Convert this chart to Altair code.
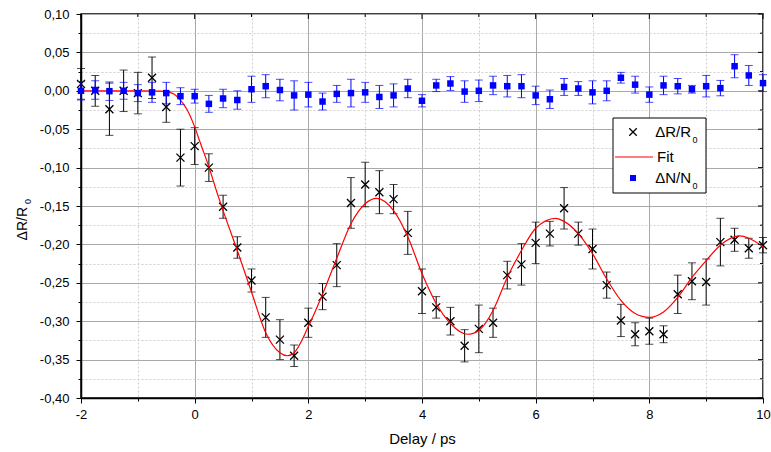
import altair as alt
import pandas as pd

# ---------------- data ----------------
delay = [-2.0, -1.75, -1.5, -1.25, -1.0, -0.75, -0.5, -0.25, 0.0, 0.25, 0.5, 0.75,
         1.0, 1.25, 1.5, 1.75, 2.0, 2.25, 2.5, 2.75, 3.0, 3.25, 3.5, 3.75,
         4.0, 4.25, 4.5, 4.75, 5.0, 5.25, 5.5, 5.75, 6.0, 6.25, 6.5, 6.75,
         7.0, 7.25, 7.5, 7.75, 8.0, 8.25, 8.5, 8.75, 9.0, 9.25, 9.5, 9.75, 10.0]

dr_val = [0.009, 0.000, -0.024, 0.000, -0.003, 0.017, -0.021, -0.087, -0.072, -0.100, -0.151, -0.204,
          -0.247, -0.295, -0.324, -0.345, -0.302, -0.268, -0.227, -0.146, -0.122, -0.132, -0.141, -0.185,
          -0.261, -0.282, -0.300, -0.332, -0.310, -0.302, -0.240, -0.226, -0.198, -0.186, -0.153, -0.186,
          -0.206, -0.253, -0.299, -0.317, -0.313, -0.317, -0.265, -0.248, -0.249, -0.197, -0.194, -0.205, -0.201]
dr_err = [0.020, 0.020, 0.034, 0.027, 0.027, 0.027, 0.020, 0.037, 0.024, 0.018, 0.015, 0.014,
          0.015, 0.026, 0.026, 0.014, 0.019, 0.017, 0.028, 0.033, 0.029, 0.028, 0.019, 0.028,
          0.029, 0.014, 0.018, 0.021, 0.031, 0.019, 0.018, 0.027, 0.027, 0.016, 0.027, 0.015,
          0.026, 0.017, 0.021, 0.015, 0.017, 0.011, 0.025, 0.024, 0.030, 0.031, 0.015, 0.013, 0.010]

dn_val = [0.000, 0.001, -0.0005, 0.000, -0.003, -0.002, -0.003, -0.007, -0.007, -0.017, -0.010, -0.012,
          0.002, 0.006, 0.001, -0.006, -0.005, -0.014, -0.004, -0.003, -0.002, -0.008, -0.006, 0.003,
          -0.013, 0.007, 0.0095, -0.001, 0.000, 0.007, 0.006, 0.006, -0.006, -0.011, 0.005, 0.003,
          -0.002, 0.000, 0.017, 0.008, -0.005, 0.007, 0.006, 0.002, 0.006, 0.0035, 0.032, 0.020, 0.010]
dn_err = [0.012, 0.012, 0.012, 0.011, 0.011, 0.013, 0.014, 0.011, 0.009, 0.011, 0.012, 0.012,
          0.017, 0.015, 0.014, 0.019, 0.016, 0.011, 0.011, 0.018, 0.013, 0.015, 0.015, 0.012,
          0.008, 0.008, 0.009, 0.014, 0.014, 0.012, 0.014, 0.015, 0.012, 0.012, 0.011, 0.009,
          0.015, 0.013, 0.007, 0.011, 0.010, 0.012, 0.010, 0.005, 0.014, 0.010, 0.015, 0.013, 0.011]

fit_t = [-2.0, -1.0, -0.6, -0.4, -0.25, -0.13, 0.0, 0.1, 0.25, 0.4, 0.5, 0.75,
         1.0, 1.25, 1.5, 1.63, 1.75, 2.0, 2.25, 2.5, 2.75, 3.0, 3.2, 3.5, 3.75,
         4.0, 4.25, 4.5, 4.8, 5.0, 5.25, 5.5, 5.75, 6.0, 6.35, 6.5, 6.75,
         7.0, 7.25, 7.5, 7.75, 8.0, 8.25, 8.5, 8.75, 9.0, 9.25, 9.6, 9.75, 10.0]
fit_v = [0.0, 0.0, -0.0005, -0.003, -0.012, -0.025, -0.047, -0.068, -0.099, -0.134, -0.156, -0.208,
         -0.262, -0.315, -0.341, -0.345, -0.341, -0.307, -0.265, -0.218, -0.173, -0.147, -0.140, -0.156, -0.190,
         -0.238, -0.277, -0.303, -0.317, -0.312, -0.286, -0.243, -0.208, -0.179, -0.166, -0.170, -0.186,
         -0.212, -0.245, -0.273, -0.290, -0.295, -0.288, -0.269, -0.243, -0.221, -0.201, -0.189, -0.192, -0.203]

x_ticks = [-2, -1, 0, 1, 2, 3, 4, 5, 6, 7, 8, 9, 10]
y_ticks = [-0.4, -0.375, -0.35, -0.325, -0.3, -0.275, -0.25, -0.225, -0.2, -0.175, -0.15,
           -0.125, -0.1, -0.075, -0.05, -0.025, 0.0, 0.025, 0.05, 0.075, 0.1]

series_names = ["ΔR/R", "Fit", "ΔN/N"]

# ---------------- tables ----------------
dr = pd.DataFrame({"t": delay, "v": dr_val, "e": dr_err})
dr["lo"] = dr["v"] - dr["e"]
dr["hi"] = dr["v"] + dr["e"]
dn = pd.DataFrame({"t": delay, "v": dn_val, "e": dn_err})
dn["lo"] = dn["v"] - dn["e"]
dn["hi"] = dn["v"] + dn["e"]
fit = pd.DataFrame({"t": fit_t, "v": fit_v})
xt = pd.DataFrame({"v": x_ticks})
yt = pd.DataFrame({"v": y_ticks})
one = pd.DataFrame({"k": [0]})

FONT = "Liberation Sans"
W, H = 682, 384

minor_x = "abs(datum.value) % 2 == 1"
minor_y = "abs(round(datum.value * 40)) % 2 == 1"

xs = alt.Scale(domain=[-2, 10], nice=False, zero=False)
ys = alt.Scale(domain=[-0.40, 0.10], nice=False, zero=False)

x_axis = alt.Axis(
    values=x_ticks,
    title="Delay / ps",
    titleFont=FONT, titleFontSize=15, titleFontWeight="normal", titleColor="black",
    titlePadding=10,
    labelFont=FONT, labelFontSize=13, labelColor="black", labelPadding=5,
    labelExpr="abs(datum.value) % 2 == 0 ? (datum.value < 0 ? '-' : '') + abs(datum.value) : ''",
    labelFlush=False,
    tickSize={"condition": {"test": minor_x, "value": 3}, "value": 5},
    tickColor="black", tickWidth=1,
    domainColor="black", domainWidth=1.5,
    grid=True,
    gridColor={"condition": {"test": minor_x, "value": "#cfcfcf"}, "value": "#a9a9a9"},
    gridDash={"condition": {"test": minor_x, "value": [2, 2]}, "value": []},
    gridWidth=1,
)
y_axis = alt.Axis(
    values=y_ticks,
    title=None,
    labelFont=FONT, labelFontSize=13, labelColor="black", labelPadding=7,
    labelExpr=("abs(round(datum.value * 40)) % 2 == 0 ? "
               "(datum.value < -0.0001 ? '-' : '') + replace(format(abs(datum.value), '.2f'), '.', ',') : ''"),
    labelFlush=False,
    tickSize={"condition": {"test": minor_y, "value": 3}, "value": 5},
    tickColor="black", tickWidth=1,
    domainColor="black", domainWidth=1.5,
    grid=True,
    gridColor={"condition": {"test": minor_y, "value": "#cfcfcf"}, "value": "#a9a9a9"},
    gridDash={"condition": {"test": minor_y, "value": [2, 2]}, "value": []},
    gridWidth=1,
)

X = alt.X("t:Q", scale=xs, axis=x_axis)
Y = alt.Y("v:Q", scale=ys, axis=y_axis)

CROSS = "M-1,-1L1,1M-1,1L1,-1"

# black data
dr_bar = alt.Chart(dr).mark_rule(color="black", strokeWidth=1).encode(
    x=X, y=alt.Y("lo:Q", scale=ys, axis=y_axis), y2="hi:Q")
dr_cap_hi = alt.Chart(dr).mark_tick(color="black", orient="horizontal", size=8, thickness=1).encode(
    x=X, y=alt.Y("hi:Q", scale=ys, axis=y_axis))
dr_cap_lo = alt.Chart(dr).mark_tick(color="black", orient="horizontal", size=8, thickness=1).encode(
    x=X, y=alt.Y("lo:Q", scale=ys, axis=y_axis))
dr_pts = alt.Chart(dr).mark_point(shape=CROSS, filled=False, stroke="black", strokeWidth=1.3,
                                  size=64, opacity=1).encode(x=X, y=Y)

# fit
fit_line = alt.Chart(fit).mark_line(color="#ff0000", strokeWidth=1.2, interpolate="monotone").encode(x=X, y=Y)

# blue data
BLUE = "#0000ff"
dn_bar = alt.Chart(dn).mark_rule(color=BLUE, strokeWidth=1).encode(
    x=X, y=alt.Y("lo:Q", scale=ys, axis=y_axis), y2="hi:Q")
dn_cap_hi = alt.Chart(dn).mark_tick(color=BLUE, orient="horizontal", size=8, thickness=1).encode(
    x=X, y=alt.Y("hi:Q", scale=ys, axis=y_axis))
dn_cap_lo = alt.Chart(dn).mark_tick(color=BLUE, orient="horizontal", size=8, thickness=1).encode(
    x=X, y=alt.Y("lo:Q", scale=ys, axis=y_axis))
dn_pts = alt.Chart(dn).mark_square(color=BLUE, size=42, opacity=1).encode(x=X, y=Y)

# inward ticks on top and right frame
XV = alt.X("v:Q", scale=xs, axis=x_axis)
YV = alt.Y("v:Q", scale=ys, axis=y_axis)
top_major = alt.Chart(xt).transform_filter("abs(datum.v) % 2 == 0").mark_rule(color="black").encode(
    x=XV, y=alt.value(0), y2=alt.value(5))
top_minor = alt.Chart(xt).transform_filter("abs(datum.v) % 2 == 1").mark_rule(color="black").encode(
    x=XV, y=alt.value(0), y2=alt.value(3))
right_major = alt.Chart(yt).transform_filter("abs(round(datum.v * 40)) % 2 == 0").mark_rule(color="black").encode(
    y=YV, x=alt.value(W), x2=alt.value(W - 5))
right_minor = alt.Chart(yt).transform_filter("abs(round(datum.v * 40)) % 2 == 1").mark_rule(color="black").encode(
    y=YV, x=alt.value(W), x2=alt.value(W - 3))

# y title with subscript
ytitle_main = alt.Chart(one).mark_text(text="ΔR/R", angle=270, align="right", baseline="alphabetic",
                                       font=FONT, fontSize=14, color="black").encode(
    x=alt.value(-54), y=alt.value(193))
ytitle_sub = alt.Chart(one).mark_text(text="0", angle=270, align="left", baseline="alphabetic",
                                      font=FONT, fontSize=9, color="black").encode(
    x=alt.value(-50.5), y=alt.value(190))

# manual legend
leg_box = alt.Chart(one).mark_rect(fill="white", stroke="black", strokeWidth=1).encode(
    x=alt.value(532), x2=alt.value(625), y=alt.value(104), y2=alt.value(179))
leg_cross = alt.Chart(one).mark_point(shape=CROSS, filled=False, stroke="black", strokeWidth=1.3,
                                      size=56, opacity=1).encode(x=alt.value(552), y=alt.value(118))
leg_line = alt.Chart(one).mark_rule(color="#ff0000", strokeWidth=1.2).encode(
    x=alt.value(534), x2=alt.value(572), y=alt.value(143))
leg_sq = alt.Chart(one).mark_square(color=BLUE, size=36, opacity=1).encode(x=alt.value(552), y=alt.value(164))

def ltext(txt, x, y, size, align="left"):
    return alt.Chart(one).mark_text(text=txt, align=align, baseline="alphabetic", font=FONT,
                                    fontSize=size, color="black").encode(x=alt.value(x), y=alt.value(y))

leg_t1 = ltext(series_names[0], 610, 123, 15, "right")
leg_s1 = ltext("0", 611.5, 128.5, 9)
leg_t2 = ltext(series_names[1], 576, 148, 15)
leg_t3 = ltext(series_names[2], 610, 169, 15, "right")
leg_s3 = ltext("0", 611.5, 175, 9)

chart = alt.layer(
    dr_bar, dr_cap_hi, dr_cap_lo, dr_pts,
    fit_line,
    dn_bar, dn_cap_hi, dn_cap_lo, dn_pts,
    top_major, top_minor, right_major, right_minor,
    ytitle_main, ytitle_sub,
    leg_box, leg_cross, leg_line, leg_sq, leg_t1, leg_s1, leg_t2, leg_t3, leg_s3,
).properties(
    width=W, height=H,
    autosize=alt.AutoSizeParams(type="none"),
    padding={"left": 81, "top": 14, "right": 8, "bottom": 54},
    background="white",
).configure_view(
    stroke="black", strokeWidth=1.5,
)

chart.save("out.html", embed_options={"renderer": "svg", "actions": False})
